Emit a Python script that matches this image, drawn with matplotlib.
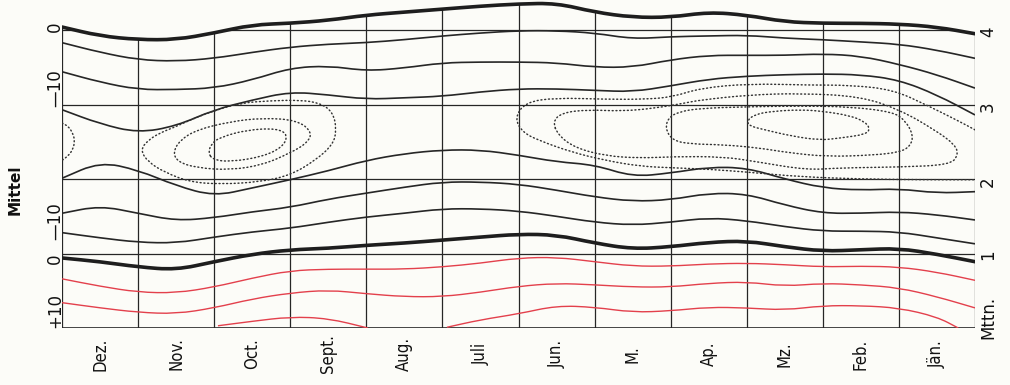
import matplotlib.pyplot as plt
import numpy as np
from matplotlib.patches import PathPatch
from matplotlib.path import Path
from matplotlib.transforms import blended_transform_factory

# x: months from the left edge (0 = start of Dez., 12 = end of Jän.), read every half month
# y: hours after midnight (0 = Mttn., 4 = 4 o'clock)
months = ["Dez.", "Nov.", "Oct.", "Sept.", "Aug.", "Juli", "Jun.", "M.", "Ap.", "Mz.", "Feb.", "Jän."]
hour_labels = ["Mttn.", "1", "2", "3", "4"]
xs = np.arange(25) / 2.0

# solid isolines, top to bottom
upper_zero = [4.04, 3.92, 3.87, 3.87, 3.96, 4.07, 4.09, 4.13, 4.20, 4.24, 4.28, 4.32, 4.35,
              4.36, 4.24, 4.17, 4.17, 4.24, 4.20, 4.11, 4.09, 4.09, 4.08, 4.04, 3.95]
upper_a = [3.83, 3.70, 3.60, 3.58, 3.62, 3.70, 3.77, 3.81, 3.83, 3.87, 3.92, 3.96, 3.99,
           3.99, 3.96, 3.88, 3.91, 3.92, 3.93, 3.89, 3.87, 3.84, 3.81, 3.73, 3.62]
upper_b = [3.44, 3.30, 3.20, 3.20, 3.22, 3.33, 3.49, 3.52, 3.45, 3.49, 3.56, 3.57, 3.57,
           3.56, 3.50, 3.50, 3.60, 3.66, 3.66, 3.66, 3.68, 3.65, 3.54, 3.40, 3.22]
upper_c = [2.93, 2.74, 2.62, 2.71, 2.93, 3.06, 3.17, 3.13, 3.07, 3.09, 3.11, 3.17, 3.21,
           3.21, 3.19, 3.17, 3.25, 3.34, 3.38, 3.40, 3.41, 3.40, 3.33, 3.13, 2.86]
middle = [2.01, 2.23, 2.12, 1.91, 1.77, 1.88, 1.99, 2.11, 2.25, 2.34, 2.39, 2.39, 2.32,
          2.23, 2.19, 2.03, 2.08, 2.16, 2.15, 2.00, 1.88, 1.85, 1.87, 1.81, 1.83]
lower_c = [1.54, 1.64, 1.54, 1.44, 1.48, 1.56, 1.62, 1.73, 1.81, 1.89, 1.96, 1.96, 1.93,
           1.85, 1.76, 1.70, 1.72, 1.81, 1.80, 1.65, 1.54, 1.54, 1.56, 1.52, 1.45]
lower_b = [1.28, 1.21, 1.15, 1.14, 1.22, 1.29, 1.34, 1.42, 1.49, 1.54, 1.60, 1.60, 1.57,
           1.50, 1.42, 1.38, 1.42, 1.48, 1.44, 1.36, 1.30, 1.30, 1.29, 1.21, 1.13]
lower_zero = [0.94, 0.89, 0.82, 0.78, 0.89, 0.99, 1.05, 1.07, 1.11, 1.14, 1.18, 1.22, 1.26,
              1.25, 1.14, 1.06, 1.09, 1.15, 1.17, 1.09, 1.03, 1.05, 1.07, 0.99, 0.89]

# red isolines (+ side)
plus_a = [0.66, 0.56, 0.48, 0.47, 0.55, 0.67, 0.77, 0.79, 0.79, 0.79, 0.82, 0.87, 0.94,
          0.95, 0.89, 0.83, 0.83, 0.86, 0.87, 0.85, 0.82, 0.83, 0.82, 0.75, 0.64]
plus_b = [0.34, 0.27, 0.21, 0.19, 0.27, 0.39, 0.47, 0.51, 0.46, 0.42, 0.42, 0.48, 0.56,
          0.60, 0.58, 0.55, 0.55, 0.60, 0.62, 0.56, 0.60, 0.58, 0.54, 0.42, 0.27]
plus_c1_x = [2.05, 2.5, 3.0, 3.5, 4.02]
plus_c1 = [0.03, 0.09, 0.15, 0.13, 0.0]
plus_c2_x = [5.06, 5.5, 6.0, 6.5, 7.0, 7.5, 8.0, 8.5, 9.0, 9.5, 10.0, 10.5, 11.0, 11.5, 11.78]
plus_c2 = [0.01, 0.11, 0.19, 0.30, 0.28, 0.21, 0.23, 0.28, 0.27, 0.24, 0.30, 0.30, 0.27, 0.15, 0.0]

# dotted isolines (month, hour)
edge_loop = [(0, 2.75), (0.08, 2.71), (0.14, 2.62), (0.17, 2.51), (0.14, 2.39), (0.08, 2.31), (0, 2.25)]
oct_outer = [(1.03, 2.39), (1.13, 2.52), (1.29, 2.62), (1.49, 2.70), (1.68, 2.79), (1.95, 2.90),
             (2.34, 3.02), (2.73, 3.05), (3.13, 3.06), (3.39, 3.02), (3.56, 2.90), (3.61, 2.66),
             (3.56, 2.46), (3.33, 2.25), (3.00, 2.05), (2.60, 1.96), (2.08, 1.93), (1.68, 1.96),
             (1.35, 2.09), (1.13, 2.23), (1.03, 2.39)]
oct_middle = [(1.46, 2.36), (1.55, 2.52), (1.77, 2.66), (2.21, 2.77), (2.64, 2.82), (3.09, 2.79),
              (3.29, 2.63), (3.22, 2.48), (3.00, 2.35), (2.64, 2.19), (2.21, 2.12), (1.77, 2.15),
              (1.52, 2.23), (1.46, 2.36)]
oct_inner = [(1.92, 2.36), (1.97, 2.48), (2.08, 2.56), (2.43, 2.66), (2.83, 2.68), (2.97, 2.59),
             (2.90, 2.43), (2.64, 2.30), (2.21, 2.23), (1.98, 2.26), (1.92, 2.36)]
spring_outer = [(12.0, 2.66), (11.80, 2.77), (11.37, 2.99), (10.92, 3.20), (10.36, 3.26), (9.83, 3.26),
                (9.04, 3.28), (8.39, 3.22), (8.02, 3.10), (7.66, 3.07), (7.14, 3.07), (6.48, 3.09),
                (6.09, 3.03), (5.95, 2.82), (6.05, 2.63), (6.26, 2.52), (6.70, 2.36), (7.14, 2.25),
                (7.60, 2.17), (8.03, 2.15), (8.52, 2.13), (9.04, 2.09), (9.70, 2.03), (10.49, 2.00),
                (11.28, 1.99), (12.0, 1.99)]
spring_b = [(6.45, 2.77), (6.57, 2.89), (6.91, 2.93), (7.36, 2.91), (7.79, 2.95), (8.19, 3.02),
            (8.39, 3.06), (9.04, 3.13), (9.70, 3.15), (10.49, 3.11), (11.01, 2.93), (11.47, 2.66),
            (11.74, 2.46), (11.78, 2.32), (11.67, 2.19), (11.01, 2.16), (10.23, 2.15), (9.79, 2.12),
            (9.14, 2.23), (8.69, 2.30), (8.03, 2.30), (7.60, 2.28), (7.14, 2.31), (6.74, 2.42),
            (6.52, 2.59), (6.45, 2.77)]
spring_c = [(7.93, 2.68), (7.97, 2.82), (8.10, 2.90), (8.39, 2.95), (9.04, 2.97), (9.70, 2.98),
            (10.36, 2.97), (10.92, 2.90), (11.08, 2.79), (11.19, 2.59), (11.15, 2.44), (11.01, 2.36),
            (10.66, 2.32), (10.06, 2.30), (9.57, 2.35), (9.14, 2.42), (8.69, 2.46), (8.25, 2.47),
            (8.02, 2.52), (7.93, 2.68)]
spring_inner = [(9.00, 2.78), (9.11, 2.87), (9.35, 2.91), (9.70, 2.93), (10.00, 2.91), (10.36, 2.85),
                (10.55, 2.77), (10.62, 2.68), (10.57, 2.60), (10.23, 2.55), (9.96, 2.52), (9.57, 2.58),
                (9.24, 2.66), (9.04, 2.71), (9.00, 2.78)]

ink = '#262626'
red = '#e3404c'
paper = '#fcfcf8'


def smooth_path(px, py):
    # the points act as control points of quadratic bezier pieces, like a hand drawn curve
    pts = np.column_stack([px, py]).astype(float)
    closed = np.allclose(pts[0], pts[-1])
    if closed:
        pts = pts[:-1]
        mids = (pts + np.roll(pts, -1, axis=0)) / 2
        verts = [mids[-1]]
        codes = [Path.MOVETO]
        for i in range(len(pts)):
            verts += [pts[i], mids[i]]
            codes += [Path.CURVE3, Path.CURVE3]
        return Path(verts, codes)
    mids = (pts[:-1] + pts[1:]) / 2
    verts = [pts[0], mids[0]]
    codes = [Path.MOVETO, Path.LINETO]
    for i in range(1, len(pts) - 1):
        verts += [pts[i], mids[i]]
        codes += [Path.CURVE3, Path.CURVE3]
    verts.append(pts[-1])
    codes.append(Path.LINETO)
    return Path(verts, codes)


def draw(px, py, **kw):
    patch = PathPatch(smooth_path(px, py), fill=False, **kw)
    ax.add_patch(patch)
    return patch


fig = plt.figure(figsize=(10.1, 3.85), dpi=100, facecolor=paper)
ax = fig.add_axes([62 / 1010, 57 / 385, 913 / 1010, 327.8 / 385])
ax.set_xlim(0, 12)
ax.set_ylim(0, 4.4)
ax.axis('off')

# area below the upper 0-line, used to cut the frame lines
top_path = smooth_path(xs, upper_zero)
clip_verts = [(-0.1, 0), (-0.1, upper_zero[0])] + [tuple(v) for v in top_path.vertices] + \
             [(12.1, upper_zero[-1]), (12.1, 0), (-0.1, 0)]
clip_codes = [Path.MOVETO, Path.LINETO, Path.LINETO] + list(top_path.codes[1:]) + \
             [Path.LINETO, Path.LINETO, Path.LINETO]
clip = PathPatch(Path(clip_verts, clip_codes), fill=False, lw=0)
ax.add_patch(clip)

for h in [1, 2, 3]:
    ax.axhline(h, color=ink, lw=0.9, zorder=1)
ax.axhline(0, color=ink, lw=1.2, zorder=1)
top = ax.axhline(4, color=ink, lw=0.9, zorder=1)
top.set_clip_path(clip)
for b in range(13):
    v, = ax.plot([b, b], [0, 4.4], color=ink, lw=0.9, zorder=1)
    v.set_clip_path(clip)

for ys in [upper_a, upper_b, upper_c, middle, lower_c, lower_b]:
    draw(xs, ys, edgecolor=ink, lw=1.2)
for ys in [upper_zero, lower_zero]:
    draw(xs, ys, edgecolor='#1e1e1e', lw=2.6, capstyle='round')
for ys in [plus_a, plus_b]:
    draw(xs, ys, edgecolor=red, lw=1.0)
draw(plus_c1_x, plus_c1, edgecolor=red, lw=1.0)
draw(plus_c2_x, plus_c2, edgecolor=red, lw=1.0)

for loop in [edge_loop, oct_outer, oct_middle, oct_inner, spring_outer, spring_b, spring_c, spring_inner]:
    m, h = zip(*loop)
    draw(m, h, edgecolor='#333333', lw=1.05, linestyle=(0, (0.7, 1.9)), capstyle='round')

# month names under the grid
tb = blended_transform_factory(ax.transData, ax.transAxes)
for i, name in enumerate(months):
    ax.text(i + 0.5, -0.079, name, transform=tb, rotation=90, ha='center', va='center',
            fontsize=12, fontstretch='condensed', color='#111111')

# hour marks on the right
for lab, ypx in zip(hour_labels, [317, 255, 182, 107, 32]):
    fig.text(988 / 1010, 1 - ypx / 385, lab, rotation=90, ha='center', va='center',
             fontsize=12, color='#111111')

# scale of the isolines on the left
for lab, ypx in [("0", 27), ("\u201410", 88), ("\u201410", 221), ("0", 259), ("+10", 311)]:
    fig.text(55 / 1010, 1 - ypx / 385, lab, rotation=90, ha='center', va='center',
             fontsize=12, color='#111111')
fig.text(15 / 1010, 1 - 190 / 385, "Mittel", rotation=90, ha='center', va='center',
         fontsize=11, fontweight='bold', color='#111111')

plt.savefig('out.png', dpi=100, facecolor=paper)
